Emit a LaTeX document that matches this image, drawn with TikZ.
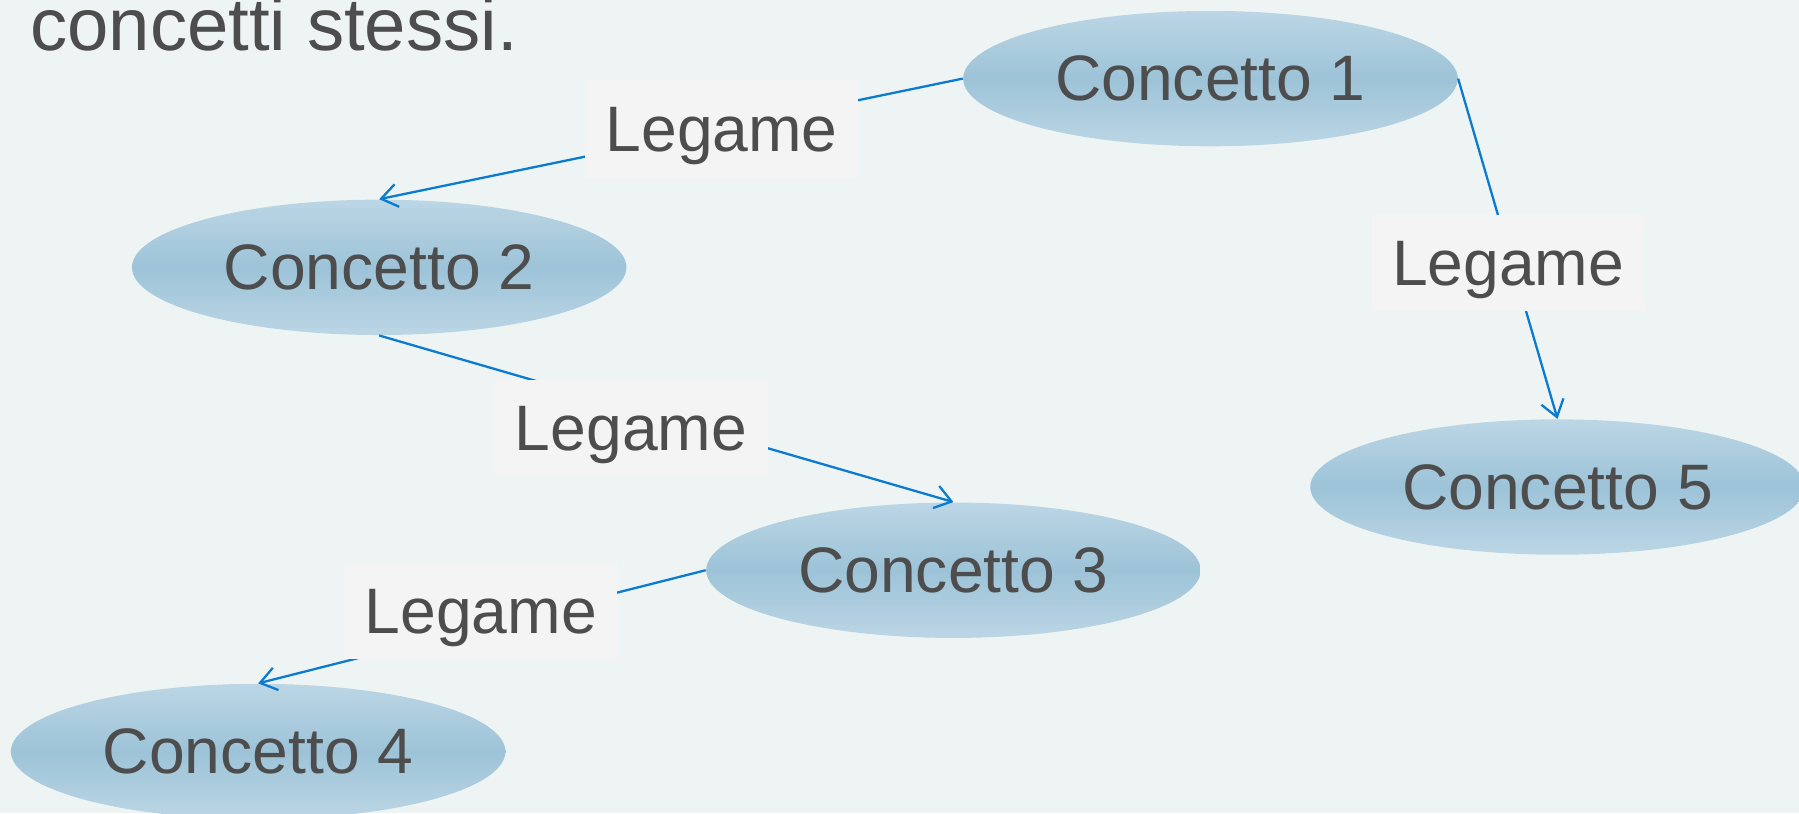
\documentclass[tikz,border=0pt]{standalone}
\usepackage{fontspec}
\setmainfont{Liberation Sans}
\usetikzlibrary{shapes.geometric,arrows.meta}
\definecolor{bg}{HTML}{EEF4F4}
\definecolor{ellmid}{HTML}{9DC3D8}
\definecolor{elledge}{HTML}{BCD6E5}
\definecolor{txt}{HTML}{4D4D4D}
\definecolor{link}{HTML}{0A7BD1}
\definecolor{lab}{HTML}{F4F4F4}
\begin{document}
\begin{tikzpicture}[x=0.5pt,y=-0.5pt,
  concept/.style={ellipse, minimum width=215.5pt, minimum height=59pt, inner sep=0pt,
    top color=elledge, bottom color=elledge, middle color=ellmid, text=txt,
    font=\fontsize{28}{33}\selectfont},
  legame/.style={rectangle, fill=lab, minimum width=119pt, minimum height=42pt, inner sep=0pt,
    text height=22pt, text depth=2pt,
    text=txt, font=\fontsize{28}{33}\selectfont},
  conn/.style={draw=link, line width=1pt},
  arr/.style={conn, -{Straight Barb[length=7pt,width=10pt]}}]
\fill[bg] (0,0) rectangle (1568,709);
\useasboundingbox (0,0) rectangle (1568,709);
\node[anchor=base west, text=txt, font=\fontsize{32.4}{38}\selectfont, inner sep=0pt] (intro) at (26,44) {concetti stessi.};
\node[concept] (c1) at (1055,68.5) {Concetto 1};
\node[concept] (c2) at (330.5,233) {Concetto 2};
\node[concept] (c3) at (831,497) {Concetto 3};
\node[concept] (c4) at (225,655) {Concetto 4};
\node[concept] (c5) at (1357.5,424.5) {Concetto 5};
\draw[arr] (c1.west) -- (c2.north);
\draw[arr] (c1.east) -- (c5.north);
\draw[arr] (c2.south) -- (c3.north);
\draw[arr] (c3.west) -- (c4.north);
\node[legame] (l1) at (629,112) {Legame};
\node[legame] (l2) at (1314.5,229) {Legame};
\node[legame] (l3) at (550,373) {Legame};
\node[legame] (l4) at (419,532.5) {Legame};
\end{tikzpicture}
\end{document}
